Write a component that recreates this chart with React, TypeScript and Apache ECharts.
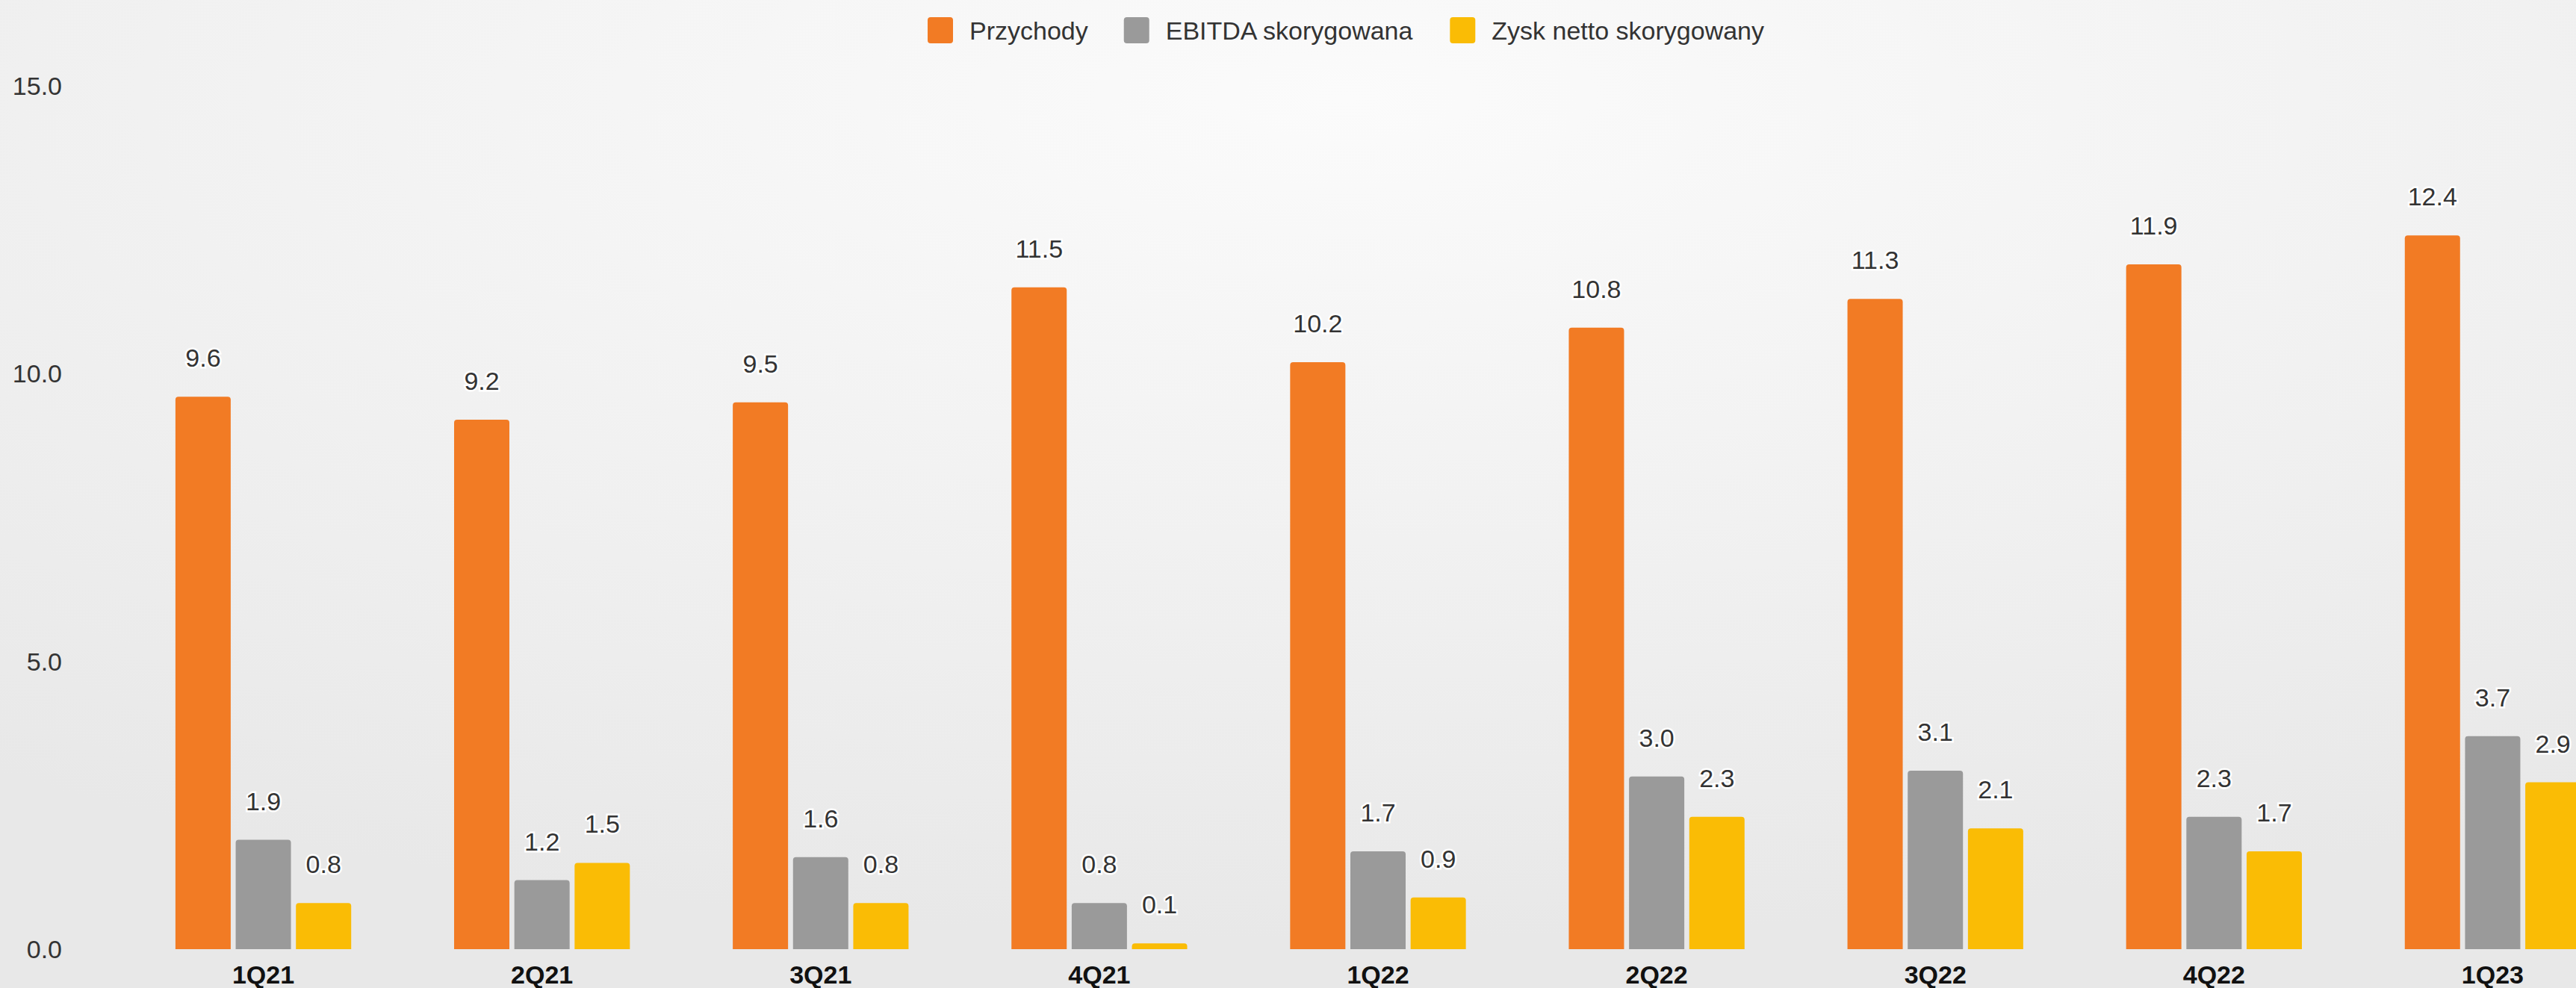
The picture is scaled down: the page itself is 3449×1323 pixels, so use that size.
import React, { useEffect, useRef } from 'react';
import * as echarts from 'echarts';

const categories = ['1Q21', '2Q21', '3Q21', '4Q21', '1Q22', '2Q22', '3Q22', '4Q22', '1Q23'];
const przychody = [9.6, 9.2, 9.5, 11.5, 10.2, 10.8, 11.3, 11.9, 12.4];
const ebitda = [1.9, 1.2, 1.6, 0.8, 1.7, 3.0, 3.1, 2.3, 3.7];
const zysk = [0.8, 1.5, 0.8, 0.1, 0.9, 2.3, 2.1, 1.7, 2.9];
const seriesNames = ['Przychody', 'EBITDA skorygowana', 'Zysk netto skorygowany'];
const seriesColors = ['#F27B24', '#9A9A9A', '#FABC05'];
const yMin = 0;
const yMax = 15;
const yInterval = 5;

const FONT = '"Liberation Sans", Arial, sans-serif';
const LEGEND_ICON = 'path://M4,0 H30 Q34,0 34,4 V31 Q34,35 30,35 H4 Q0,35 0,31 V4 Q0,0 4,0 Z';

export default function App() {
  const ref = useRef<HTMLDivElement>(null);
  useEffect(() => {
    document.body.style.margin = '0';
    if (!ref.current) return;
    const chart = echarts.init(ref.current, undefined, { renderer: 'svg' });
    const values = [przychody, ebitda, zysk];
    chart.setOption({
      animation: false,
      backgroundColor: {
        type: 'radial',
        x: 0.5,
        y: 0.1,
        r: 0.85,
        colorStops: [
          { offset: 0, color: '#fbfbfb' },
          { offset: 1, color: '#e8e8e8' },
        ],
      },
      textStyle: { fontFamily: FONT },
      legend: {
        top: 18,
        left: 'center',
        icon: LEGEND_ICON,
        itemWidth: 34,
        itemHeight: 35,
        itemGap: 48,
        data: seriesNames,
        textStyle: { fontSize: 34, color: '#333', fontFamily: FONT, padding: [0, 0, 0, 17] },
      },
      grid: { left: 166, right: 80, top: 115, bottom: 52, containLabel: false },
      xAxis: {
        type: 'category',
        data: categories,
        axisLine: { show: false },
        axisTick: { show: false },
        axisLabel: { fontSize: 34, fontWeight: 'bold', color: '#111', margin: 17, fontFamily: FONT },
      },
      yAxis: {
        type: 'value',
        min: yMin,
        max: yMax,
        interval: yInterval,
        splitLine: { show: false },
        axisLine: { show: false },
        axisTick: { show: false },
        axisLabel: {
          fontSize: 34,
          color: '#333',
          margin: 83,
          fontFamily: FONT,
          formatter: (v: number) => v.toFixed(1),
        },
      },
      series: seriesNames.map((name, i) => ({
        name,
        type: 'bar',
        data: values[i],
        barWidth: 74,
        barGap: '9%',
        itemStyle: { color: seriesColors[i], borderRadius: [4, 4, 0, 0] },
        label: {
          show: true,
          position: 'top',
          distance: 35,
          fontSize: 34,
          color: '#333',
          fontFamily: FONT,
          textBorderColor: '#fff',
          textBorderWidth: 5,
          formatter: (p: any) => Number(p.value).toFixed(1),
        },
      })),
    });
    return () => chart.dispose();
  }, []);
  return (
    <div style={{ width: 3449, height: 1323, overflow: 'hidden', position: 'relative' }}>
      <div ref={ref} style={{ width: 3604, height: 1323 }} />
    </div>
  );
}
